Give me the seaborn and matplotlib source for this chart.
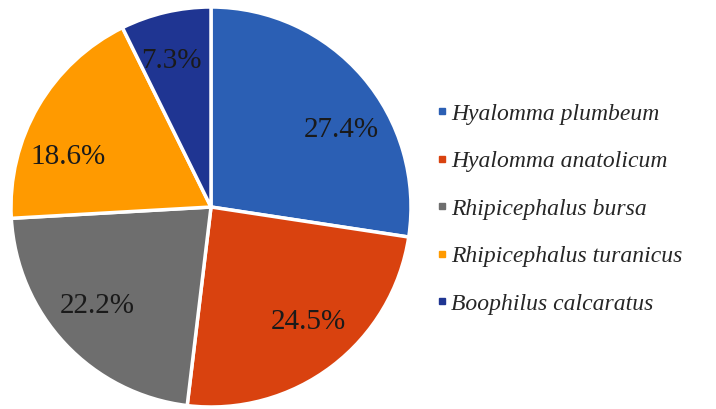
import matplotlib
matplotlib.use("Agg")
import numpy as np
import matplotlib.pyplot as plt
import seaborn as sns
from matplotlib.lines import Line2D

sns.set_style("white")
plt.rcParams['font.family'] = ['Liberation Serif', 'DejaVu Serif']

# tick species share (%)
species = ["Hyalomma plumbeum", "Hyalomma anatolicum", "Rhipicephalus bursa",
           "Rhipicephalus turanicus", "Boophilus calcaratus"]
shares = [27.4, 24.5, 22.2, 18.6, 7.3]
colors = ["#2b5fb4", "#d9420f", "#6e6e6e", "#ff9a00", "#1f3592"]

fig = plt.figure(figsize=(7.16, 4.09), dpi=100)
ax = fig.add_axes([11 / 716, 2 / 409, 400 / 716, 400 / 409])

wedges, texts, autotexts = ax.pie(
    shares, colors=colors, startangle=90, counterclock=False,
    autopct="%.1f%%", pctdistance=0.755,
    wedgeprops=dict(edgecolor="white", linewidth=2.5),
    textprops=dict(fontsize=21, color="#1a1a1a"))

# nudge labels a bit like the original "best fit" placement
label_shift = [-10, 3, -2, 11, 2]
for w, t, s in zip(wedges, autotexts, label_shift):
    ang = np.deg2rad((w.theta1 + w.theta2) / 2 + s)
    t.set_position((0.755 * np.cos(ang), 0.755 * np.sin(ang)))

ax.set_xlim(-1.0, 1.0)
ax.set_ylim(-1.0, 1.0)
ax.set_aspect("equal")

handles = [Line2D([0], [0], marker="s", linestyle="", markersize=4,
                  markerfacecolor=c, markeredgecolor=c) for c in colors]
fig.legend(handles, species, loc="center left", bbox_to_anchor=(425 / 716, 0.489),
           frameon=False, handlelength=0.4, handletextpad=0.2, labelspacing=1.1,
           borderpad=0, prop=dict(family="Liberation Serif", style="italic", size=17))

fig.savefig("out.png", dpi=100)
